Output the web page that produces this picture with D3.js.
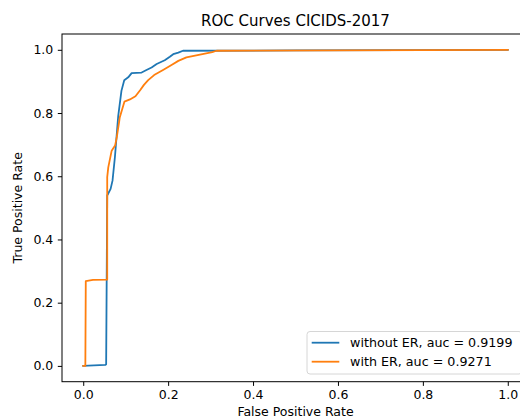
<!DOCTYPE html>
<html>
<head>
<meta charset="utf-8">
<script src="https://cdn.jsdelivr.net/npm/d3@7/dist/d3.min.js"></script>
<style>
  html, body { margin: 0; padding: 0; background: #fff; }
  svg { display: block; font-family: "DejaVu Sans", sans-serif; }
</style>
</head>
<body>
<svg id="chart" width="520" height="420"></svg>
<script>
// ROC points (false positive rate, true positive rate)
const fprWithoutER = [0, 0.052, 0.054, 0.0565, 0.0645, 0.069, 0.0746, 0.0824, 0.090, 0.0966, 0.106, 0.114, 0.1375, 0.149, 0.161, 0.173, 0.192, 0.204, 0.212, 0.224, 0.235, 0.5, 1.0];
const tprWithoutER = [0, 0.003, 0.005, 0.539, 0.560, 0.586, 0.660, 0.790, 0.870, 0.904, 0.913, 0.926, 0.928, 0.936, 0.944, 0.955, 0.967, 0.978, 0.986, 0.991, 0.997, 0.998, 1.0];

const fprWithER = [0, 0.004, 0.005, 0.006, 0.023, 0.0565, 0.0565, 0.059, 0.067, 0.075, 0.079, 0.085, 0.086, 0.097, 0.110, 0.123, 0.134, 0.143, 0.153, 0.167, 0.188, 0.208, 0.224, 0.243, 0.275, 0.304, 0.314, 0.6, 1.0];
const tprWithER = [0, 0, 0, 0.268, 0.272, 0.273, 0.597, 0.628, 0.681, 0.697, 0.723, 0.776, 0.786, 0.836, 0.843, 0.853, 0.872, 0.889, 0.904, 0.920, 0.936, 0.952, 0.965, 0.976, 0.985, 0.993, 0.997, 0.998, 1.0];

const seriesNames = ["without ER, auc = 0.9199", "with ER, auc = 0.9271"];
const seriesColors = ["#1f77b4", "#ff7f0e"];
const tickValues = [0, 0.2, 0.4, 0.6, 0.8, 1.0];

const svg = d3.select("#chart");
const margin = { left: 62, top: 34, right: 529, bottom: 381.7 };

const x = d3.scaleLinear().domain([-0.05, 1.05]).range([margin.left, margin.right]);
const y = d3.scaleLinear().domain([-0.05, 1.05]).range([margin.bottom, margin.top]);

svg.append("defs").append("clipPath").attr("id", "plotArea")
  .append("rect")
  .attr("x", margin.left).attr("y", margin.top)
  .attr("width", margin.right - margin.left).attr("height", margin.bottom - margin.top);

// ROC curves
const line = d3.line().x(d => x(d[0])).y(d => y(d[1]));
const series = [
  d3.zip(fprWithoutER, tprWithoutER),
  d3.zip(fprWithER, tprWithER)
];
svg.append("g").attr("clip-path", "url(#plotArea)")
  .selectAll("path").data(series).join("path")
  .attr("d", line)
  .attr("fill", "none")
  .attr("stroke", (d, i) => seriesColors[i])
  .attr("stroke-width", 1.8)
  .attr("stroke-linejoin", "round")
  .attr("stroke-linecap", "square");

// Axes
const fmt = d3.format(".1f");
const xAxis = svg.append("g")
  .attr("transform", `translate(0,${margin.bottom})`)
  .call(d3.axisBottom(x).tickValues(tickValues).tickFormat(fmt).tickSize(4.2).tickPadding(4.5).tickSizeOuter(0));
const yAxis = svg.append("g")
  .attr("transform", `translate(${margin.left},0)`)
  .call(d3.axisLeft(y).tickValues(tickValues).tickFormat(fmt).tickSize(4.2).tickPadding(4.5).tickSizeOuter(0));

[xAxis, yAxis].forEach(g => {
  g.select(".domain").remove();
  g.selectAll(".tick line").attr("stroke", "#000").attr("stroke-width", 1);
  g.selectAll(".tick text").attr("fill", "#000")
    .style("font-size", "12.5px").style("font-family", "DejaVu Sans, sans-serif");
});

// Spines
svg.append("rect")
  .attr("x", margin.left).attr("y", margin.top)
  .attr("width", margin.right - margin.left).attr("height", margin.bottom - margin.top)
  .attr("fill", "none").attr("stroke", "#000").attr("stroke-width", 1);

// Title and axis labels
svg.append("text")
  .attr("x", (margin.left + margin.right) / 2).attr("y", 26)
  .attr("text-anchor", "middle").style("font-size", "15px")
  .text("ROC Curves CICIDS-2017");
svg.append("text")
  .attr("x", (margin.left + margin.right) / 2).attr("y", 416)
  .attr("text-anchor", "middle").style("font-size", "12.5px")
  .text("False Positive Rate");
svg.append("text")
  .attr("transform", `translate(22,${(margin.top + margin.bottom) / 2}) rotate(-90)`)
  .attr("text-anchor", "middle").style("font-size", "12.5px")
  .text("True Positive Rate");

// Legend
const legend = svg.append("g");
legend.append("rect")
  .attr("x", 307).attr("y", 331.5).attr("width", 215).attr("height", 42.5)
  .attr("rx", 3).attr("fill", "#fff").attr("fill-opacity", 0.8)
  .attr("stroke", "#d6d6d6").attr("stroke-width", 1);
const items = legend.selectAll("g.item").data(seriesNames).join("g")
  .attr("class", "item")
  .attr("transform", (d, i) => `translate(0,${342.7 + i * 19})`);
items.append("line")
  .attr("x1", 311.7).attr("x2", 339.3)
  .attr("stroke", (d, i) => seriesColors[i]).attr("stroke-width", 1.8);
items.append("text")
  .attr("x", 350).attr("dy", "0.35em")
  .style("font-size", "12.7px")
  .text(d => d);
</script>
</body>
</html>
